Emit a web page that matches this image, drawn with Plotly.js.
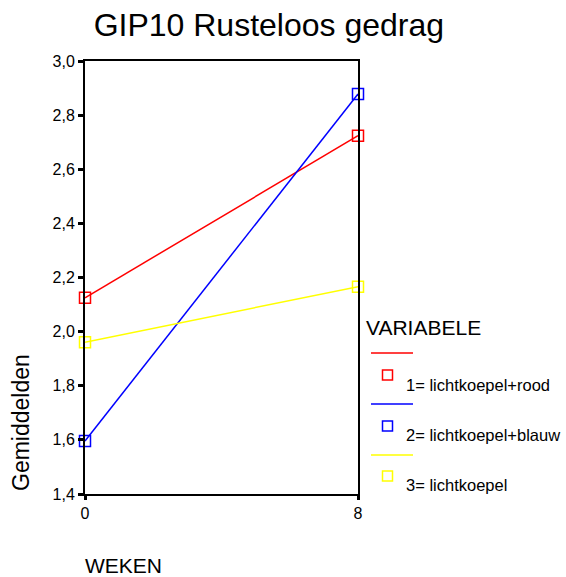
<!DOCTYPE html>
<html>
<head>
<meta charset="utf-8">
<script src="https://cdn.plot.ly/plotly-3.0.1.min.js"></script>
<style>html,body{margin:0;padding:0;background:#fff;}#chart{width:566px;height:577px;}</style>
</head>
<body>
<div id="chart"></div>
<script>
// Data
const weeks = [0, 8];
const seriesNames = ["1= lichtkoepel+rood", "2= lichtkoepel+blauw", "3= lichtkoepel"];
const seriesColors = ["#ff0000", "#0000ff", "#ffff00"];
const rood = [2.125, 2.724];
const blauw = [1.596, 2.878];
const lichtkoepel = [1.961, 2.166];
const yTicks = [1.4, 1.6, 1.8, 2.0, 2.2, 2.4, 2.6, 2.8, 3.0];
const xTicks = [0, 8];
const chartTitle = "GIP10 Rusteloos gedrag";
const legendTitle = "VARIABELE";
const xTitle = "WEKEN";
const yTitle = "Gemiddelden";

const W = 566, H = 577;
const M = {l: 85, r: 208, t: 61, b: 83};
const pw = W - M.l - M.r, ph = H - M.t - M.b;
const px = x => (x - M.l) / pw;
const py = y => (H - M.b - y) / ph;

const values = [rood, blauw, lichtkoepel];
const traces = values.map((v, i) => ({
  x: weeks, y: v, type: 'scatter', mode: 'lines+markers',
  name: seriesNames[i], cliponaxis: false, showlegend: false,
  line: {color: seriesColors[i], width: 1.5},
  marker: {symbol: 'square-open', size: 11, color: seriesColors[i], line: {width: 1.5, color: seriesColors[i]}}
}));

const font = "Liberation Sans, Arial, sans-serif";
const shapes = [], annotations = [];
const lineY = [353, 404, 455], markY = [375, 426, 476], labY = [385, 435, 485];
seriesNames.forEach((n, i) => {
  shapes.push({type: 'line', xref: 'paper', yref: 'paper', x0: px(371), x1: px(413), y0: py(lineY[i]), y1: py(lineY[i]), line: {color: seriesColors[i], width: 1.5}});
  shapes.push({type: 'rect', xref: 'paper', yref: 'paper', x0: px(382.5), x1: px(392.5), y0: py(markY[i] + 5), y1: py(markY[i] - 5), line: {color: seriesColors[i], width: 1.5}});
  annotations.push({text: n, xref: 'paper', yref: 'paper', x: px(404), y: py(labY[i]), xanchor: 'left', yanchor: 'middle', showarrow: false, font: {family: font, size: 16.5, color: '#000'}});
});
annotations.push({text: legendTitle, xref: 'paper', yref: 'paper', x: px(364), y: py(327), xanchor: 'left', yanchor: 'middle', showarrow: false, font: {family: font, size: 21, color: '#000'}});
annotations.push({text: xTitle, xref: 'paper', yref: 'paper', x: px(83), y: py(565), xanchor: 'left', yanchor: 'middle', showarrow: false, font: {family: font, size: 21, color: '#000'}});
annotations.push({text: yTitle, xref: 'paper', yref: 'paper', x: px(21), y: py(423), xanchor: 'center', yanchor: 'middle', textangle: -90, showarrow: false, font: {family: font, size: 23, color: '#000'}});

const layout = {
  width: W, height: H,
  margin: M,
  paper_bgcolor: '#fff', plot_bgcolor: '#fff',
  separators: ', ',
  showlegend: false,
  title: {text: chartTitle, x: 0.475, xanchor: 'center', y: 0.957, yanchor: 'middle', font: {family: font, size: 32, color: '#000'}},
  xaxis: {range: [0, 8], tickvals: xTicks, ticktext: xTicks.map(String), ticks: 'outside', ticklen: 4, tickwidth: 3, tickcolor: '#000',
    showline: true, linecolor: '#000', linewidth: 2, mirror: true, showgrid: false, zeroline: false,
    tickfont: {family: font, size: 16, color: '#000'}},
  yaxis: {range: [1.4, 3.0], tickvals: yTicks, tickformat: '.1f', ticks: 'outside', ticklen: 5, tickwidth: 3, tickcolor: '#000',
    showline: true, linecolor: '#000', linewidth: 2, mirror: true, showgrid: false, zeroline: false,
    tickfont: {family: font, size: 16, color: '#000'}},
  shapes: shapes, annotations: annotations
};
Plotly.newPlot('chart', traces, layout, {displayModeBar: false, staticPlot: true});
</script>
</body>
</html>
